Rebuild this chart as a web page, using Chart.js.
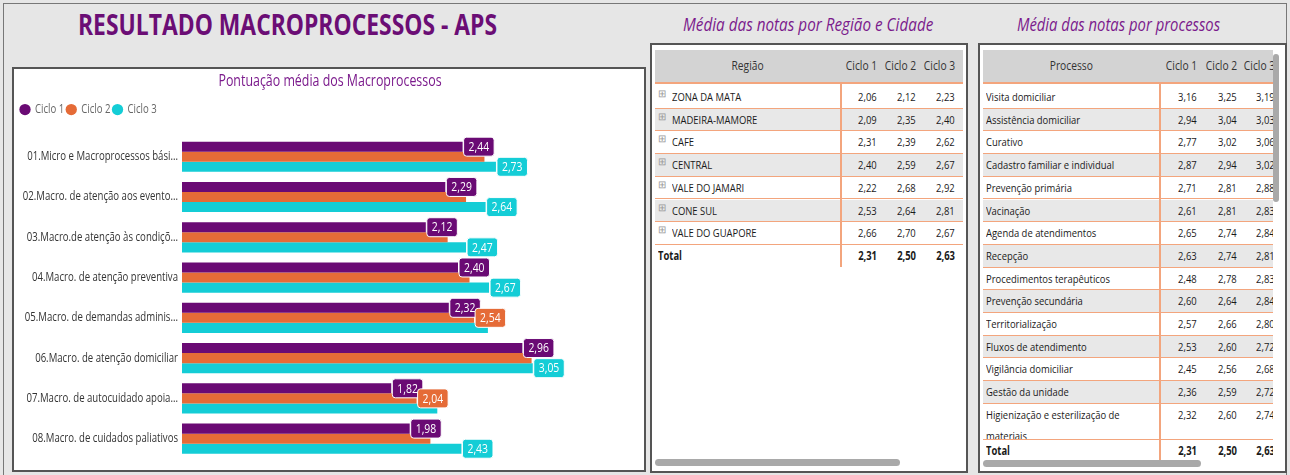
<!DOCTYPE html>
<html>
<head>
<meta charset="utf-8">
<script src="https://cdn.jsdelivr.net/npm/chart.js@4.4.1/dist/chart.umd.min.js"></script>
<style>
  body { margin: 0; background: #e6e6e6; font-family: "Open Sans", sans-serif; }
  #page { position: relative; width: 1290px; height: 475px; overflow: hidden; }
  .frame { position: absolute; left: 3px; top: 3px; width: 1284px; height: 480px; border: 1px solid #777; box-sizing: border-box; }
  .fit { position: absolute; white-space: nowrap; line-height: 1; transform-origin: left center; }
  .main-title { left: 78px; top: 10px; font-size: 28px; font-weight: bold; color: #6b0d75; }
  .sub-title { top: 15px; font-size: 19px; font-style: italic; color: #7b1a8c; }
  .box { position: absolute; background: #fff; border: 2px solid #555; box-sizing: border-box; }
  .tbl { position: absolute; font-size: 11.5px; color: #1a1a1a; }
  .hdr { position: absolute; left: 0; top: 0; height: 32px; background: #d3d3d3; border-bottom: 2px solid #f3a57d; font-size: 12.5px; color: #333; }
  .cell { position: absolute; top: 0; white-space: nowrap; }
  .row { position: absolute; left: 0; border-bottom: 1.5px solid #f3a57d; box-sizing: border-box; overflow: hidden; background: #fff; }
  .row.alt { background: #e8e8e8; }
  .row.total { font-weight: bold; border-bottom: none; }
  .sq { font-style: normal; display: inline-block; transform: scaleX(0.82); transform-origin: left center; }
  .sq.r { transform-origin: right center; }
  .sq.c { transform-origin: center center; }
  .vline { position: absolute; width: 1.5px; background: #f3a57d; }
  .plus { color: #999; font-size: 10px; }
  .scroll { position: absolute; background: #a9a9a9; border-radius: 4px; }
</style>
</head>
<body>
<div id="page">
  <div class="frame"></div>
  <div class="fit main-title" data-w="419">RESULTADO MACROPROCESSOS - APS</div>
  <div class="fit sub-title" style="left:683px;" data-w="250">Média das notas por Região e Cidade</div>
  <div class="fit sub-title" style="left:1017px;" data-w="203">Média das notas por processos</div>

  <div class="box" style="left:12px;top:67px;width:634px;height:405px;">
    <div style="position:absolute;left:0;top:0;width:630px;height:401px;"><canvas id="chart"></canvas></div>
  </div>

  <div class="box" style="left:650px;top:43px;width:318px;height:430px;">
    <div class="tbl" id="regTable" style="left:3px;top:5px;width:308px;height:400px;"></div>
    <div class="scroll" style="left:3px;top:414px;width:245px;height:7px;"></div>
  </div>

  <div class="box" style="left:978px;top:43px;width:309px;height:430px;">
    <div class="tbl" id="procTable" style="left:3px;top:5px;width:293px;height:412px;overflow:hidden;"></div>
    <div class="scroll" style="left:293px;top:9px;width:6px;height:148px;"></div>
    <div class="scroll" style="left:3px;top:415px;width:218px;height:7px;"></div>
  </div>
</div>

<script>
// bar chart data
const macroLabels = [
  '01.Micro e Macroprocessos bási...',
  '02.Macro. de atenção aos evento...',
  '03.Macro.de atenção às condiçõ...',
  '04.Macro. de atenção preventiva',
  '05.Macro. de demandas adminis...',
  '06.Macro. de atenção domiciliar',
  '07.Macro. de autocuidado apoia...',
  '08.Macro. de cuidados paliativos'
];
const ciclo1 = [2.44, 2.29, 2.12, 2.40, 2.32, 2.96, 1.82, 1.98];
const ciclo2 = [2.63, 2.47, 2.31, 2.50, 2.54, 3.04, 2.04, 2.16];
const ciclo3 = [2.73, 2.64, 2.47, 2.67, 2.66, 3.05, 2.22, 2.43];
// which data labels Power BI left visible
const labelsShown = [
  [1, 1, 1, 1, 1, 1, 1, 1],
  [0, 0, 0, 0, 1, 0, 1, 0],
  [1, 1, 1, 1, 0, 1, 0, 1]
];

// region table
const regioes = ['ZONA DA MATA', 'MADEIRA-MAMORE', 'CAFE', 'CENTRAL', 'VALE DO JAMARI', 'CONE SUL', 'VALE DO GUAPORE'];
const regC1 = [2.06, 2.09, 2.31, 2.40, 2.22, 2.53, 2.66];
const regC2 = [2.12, 2.35, 2.39, 2.59, 2.68, 2.64, 2.70];
const regC3 = [2.23, 2.40, 2.62, 2.67, 2.92, 2.81, 2.67];

// process table
const processos = ['Visita domiciliar', 'Assistência domiciliar', 'Curativo', 'Cadastro familiar e individual',
  'Prevenção primária', 'Vacinação', 'Agenda de atendimentos', 'Recepção', 'Procedimentos terapêuticos',
  'Prevenção secundária', 'Territorialização', 'Fluxos de atendimento', 'Vigilância domiciliar',
  'Gestão da unidade', 'Higienização e esterilização de materiais'];
const procC1 = [3.16, 2.94, 2.77, 2.87, 2.71, 2.61, 2.65, 2.63, 2.48, 2.60, 2.57, 2.53, 2.45, 2.36, 2.32];
const procC2 = [3.25, 3.04, 3.02, 2.94, 2.81, 2.81, 2.74, 2.74, 2.78, 2.64, 2.66, 2.60, 2.56, 2.59, 2.60];
const procC3 = [3.19, 3.03, 3.06, 3.02, 2.88, 2.83, 2.84, 2.81, 2.83, 2.84, 2.80, 2.72, 2.68, 2.72, 2.74];
const totals = [2.31, 2.50, 2.63];

const fmt = v => v.toFixed(2).replace('.', ',');
const colors = ['#6a0a74', '#e56b37', '#14cdd6'];
const FONT = '"Open Sans", sans-serif';
const SX = 0.8; // the report screenshot is squeezed horizontally

// squeeze the titles to the width they have in the report
document.querySelectorAll('.fit').forEach(el => {
  el.style.transform = `scaleX(${el.dataset.w / el.scrollWidth})`;
});

function numCell(x, v, lh) {
  return `<span class="cell" style="left:${x - 44}px;width:44px;text-align:right;line-height:${lh}px"><i class="sq r">${v}</i></span>`;
}

function buildTable(el, cfg) {
  let html = '';
  html += `<div class="hdr" style="width:${cfg.width}px">` +
    `<span class="cell" style="left:0;width:${cfg.sep}px;text-align:center;line-height:32px"><i class="sq c">${cfg.head}</i></span>`;
  cfg.cols.forEach((x, i) => {
    html += numCell(x, 'Ciclo ' + (i + 1), 32);
  });
  html += '</div>';
  let y = 36;
  cfg.names.forEach((name, i) => {
    const h = cfg.heights ? cfg.heights[i] : 22.7;
    const lh = h > 30 ? 21 : h - 1.5;
    html += `<div class="row${i % 2 ? ' alt' : ''}" style="top:${y}px;width:${cfg.width}px;height:${h}px">`;
    if (cfg.plus) {
      html += `<span class="cell plus" style="left:3px;top:-3px;line-height:${lh}px">&#8862;</span>` +
        `<span class="cell" style="left:17px;line-height:${lh}px"><i class="sq">${name}</i></span>`;
    } else {
      html += `<span class="cell" style="left:3px;line-height:${lh}px"><i class="sq" style="white-space:normal;width:${(cfg.sep - 8) / 0.82}px">${name}</i></span>`;
    }
    cfg.vals.forEach((arr, c) => { html += numCell(cfg.cols[c], fmt(arr[i]), lh); });
    html += '</div>';
    y += h;
  });
  html += `<div class="row total" style="top:${y}px;width:${cfg.width}px;height:22px">` +
    `<span class="cell" style="left:3px;line-height:22px"><i class="sq">Total</i></span>`;
  totals.forEach((v, c) => { html += numCell(cfg.cols[c], fmt(v), 22); });
  html += '</div>';
  html += `<div class="vline" style="left:${cfg.sep}px;top:34px;height:${y - 34 + 22}px"></div>`;
  el.innerHTML = html;
}

buildTable(document.getElementById('regTable'), {
  head: 'Região', names: regioes, vals: [regC1, regC2, regC3],
  width: 308, sep: 185, cols: [222, 261, 300], plus: true
});

const procHeights = processos.map((p, i) => i === processos.length - 1 ? 36 : 22.7);
buildTable(document.getElementById('procTable'), {
  head: 'Processo', names: processos, vals: [procC1, procC2, procC3],
  width: 290, sep: 176, cols: [214, 254, 292], plus: false, heights: procHeights
});

// horizontally squeezed canvas text, to match the report
const squeezeText = {
  id: 'squeezeText',
  beforeInit(chart) {
    const ctx = chart.ctx;
    const fill = ctx.fillText.bind(ctx);
    const measure = ctx.measureText.bind(ctx);
    ctx.fillText = (t, x, y) => {
      ctx.save();
      ctx.translate(x, y);
      ctx.scale(SX, 1);
      fill(t, 0, 0);
      ctx.restore();
    };
    ctx.measureText = t => {
      const m = measure(t);
      return { width: m.width * SX, actualBoundingBoxAscent: m.actualBoundingBoxAscent, actualBoundingBoxDescent: m.actualBoundingBoxDescent };
    };
  }
};

// value boxes at bar ends
const boxLabels = {
  id: 'boxLabels',
  afterDatasetsDraw(chart) {
    const ctx = chart.ctx;
    ctx.save();
    ctx.font = '13px ' + FONT;
    ctx.textAlign = 'center';
    ctx.textBaseline = 'middle';
    chart.data.datasets.forEach((ds, d) => {
      chart.getDatasetMeta(d).data.forEach((bar, i) => {
        if (!labelsShown[d][i]) return;
        const txt = fmt(ds.data[i]);
        const w = ctx.measureText(txt).width + 10;
        const x = bar.x + 1;
        ctx.fillStyle = ds.backgroundColor;
        ctx.strokeStyle = '#fff';
        ctx.lineWidth = 1;
        ctx.beginPath();
        ctx.roundRect(x, bar.y - 9.5, w, 19, 3);
        ctx.fill();
        ctx.stroke();
        ctx.fillStyle = '#fff';
        ctx.fillText(txt, x + w / 2, bar.y + 0.5);
      });
    });
    ctx.restore();
  }
};

// give the legend a fixed height so the bars start where they do in the report
const legendHeight = {
  id: 'legendHeight',
  beforeInit(chart) {
    const origFit = chart.legend.fit;
    chart.legend.fit = function () {
      origFit.bind(chart.legend)();
      this.height = 36;
    };
  }
};

new Chart(document.getElementById('chart'), {
  type: 'bar',
  data: {
    labels: macroLabels,
    datasets: [
      { label: 'Ciclo 1', data: ciclo1, backgroundColor: colors[0] },
      { label: 'Ciclo 2', data: ciclo2, backgroundColor: colors[1] },
      { label: 'Ciclo 3', data: ciclo3, backgroundColor: colors[2] }
    ]
  },
  options: {
    indexAxis: 'y',
    responsive: true,
    maintainAspectRatio: false,
    animation: false,
    datasets: { bar: { barPercentage: 1, categoryPercentage: 0.75 } },
    layout: { padding: { top: 0, right: 2, bottom: 10, left: 4 } },
    scales: {
      x: { display: false, min: 0, max: 4 },
      y: {
        grid: { display: false, drawTicks: false },
        border: { display: false },
        ticks: { color: '#333', font: { size: 12, family: FONT }, padding: 4 },
        afterFit(scale) { scale.width = 164; }
      }
    },
    plugins: {
      title: {
        display: true,
        text: 'Pontuação média dos Macroprocessos',
        color: '#7b1a8c',
        font: { size: 15.5, weight: 'normal', family: FONT },
        padding: { top: 3, bottom: 10 }
      },
      legend: {
        position: 'top',
        align: 'start',
        labels: {
          usePointStyle: true,
          pointStyle: 'circle',
          boxWidth: 8,
          boxHeight: 8,
          padding: 3,
          color: '#666',
          font: { size: 12, family: FONT }
        }
      },
      tooltip: { enabled: false }
    }
  },
  plugins: [squeezeText, boxLabels, legendHeight]
});
</script>
</body>
</html>
